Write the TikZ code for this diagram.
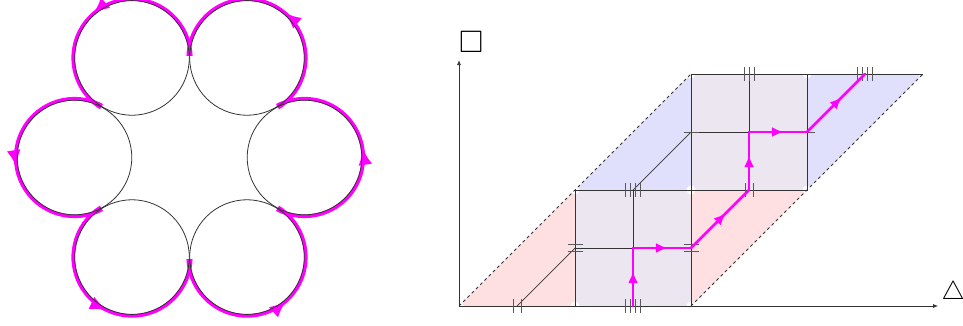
\documentclass[tikz,border=0pt]{standalone}
\usepackage{amssymb}
\usetikzlibrary{arrows.meta, calc, decorations.markings}

\definecolor{pinkfill}{RGB}{255,224,226}
\definecolor{bluefill}{RGB}{224,224,252}
\definecolor{cellfill}{RGB}{236,230,240}
\definecolor{loopcol}{RGB}{255,0,255}

\begin{document}
\begin{tikzpicture}[
  x=1pt, y=1pt,
  ring/.style={draw=black!80, line width=0.8pt},
  loop/.style={loopcol, line width=3.6pt, postaction={decorate}},
  gridline/.style={black!80, line width=0.7pt},
  seam/.style={black!80, line width=0.8pt, dash pattern=on 3pt off 3pt},
  tickmark/.style={black!65, line width=1pt},
  route/.style={loopcol, line width=2.6pt, line cap=round, postaction={decorate},
    decoration={markings, mark=at position 0.6 with {\arrow{Latex[length=12pt,width=10pt]}}}},
  axis/.style={-{Latex[length=5pt,width=4pt]}, black!80, line width=0.7pt},
  hole/.style={fill=white},
]
\useasboundingbox (0,0) rectangle (963,325);

% Left: ring of six circles
\begin{scope}[shift={(189.5,167.5)}]
  \foreach \a/\p in {0/0.54, 60/0.46, 120/0.55, 180/0.54, 240/0.52, 300/0.55} {
    \coordinate (c\a) at (\a:115);
    \draw[loop, decoration={markings, mark=at position \p with {\arrow{Latex[length=17pt,width=14pt]}}}]
      ($(c\a)+(\a-118:58.8)$) arc[start angle=\a-118, end angle=\a+118, radius=58.8];
  }
  \foreach \a in {0,60,...,300}
    \draw[ring] (c\a) circle[radius=57.3];
\end{scope}

% Right: the two cells and their strips
\begin{scope}[shift={(459pt,19pt)}, x=58pt, y=58pt]
  \foreach \i in {0,...,8}
    \foreach \j in {0,...,4}
      \coordinate (p\i\j) at (\i,\j);
  \coordinate (yend) at (0,4.24);
  \coordinate (xend) at (8.26,0);

  % fills
  \fill[pinkfill] (p00) -- (p40) -- (p62) -- (p22) -- cycle;
  \fill[bluefill] (p22) -- (p62) -- (p84) -- (p44) -- cycle;
  \fill[cellfill] (p20) rectangle (p42);
  \fill[cellfill] (p42) rectangle (p64);
  \foreach \v in {00,20,40,22,42,62,44,64,84}
    \fill[hole] (p\v) circle[radius=4.5pt];

  % strip borders
  \draw[seam] (p00) -- (p22) -- (p44);
  \draw[seam] (p40) -- (p62) -- (p84);

  % cells
  \draw[gridline] (p20) rectangle (p42);
  \draw[gridline] (p42) rectangle (p64);
  \draw[gridline] (p22) -- (p62);
  \draw[gridline] (p44) -- (p84);
  \draw[gridline] (p30) -- (p32);
  \draw[gridline] (p21) -- (p41);
  \draw[gridline] (p52) -- (p54);
  \draw[gridline] (p43) -- (p63);
  \draw[gridline] (p10) -- (p21);
  \draw[gridline] (p32) -- (p43);
  \draw[gridline] (p41) -- (p52);
  \draw[gridline] (p63) -- (p74);

  % axes
  \draw[axis] (p00) -- (yend);
  \draw[axis] (p00) -- (xend);

  % tick marks
  \foreach \v/\n in {10/2, 30/4, 32/4, 52/2, 54/3, 74/4} {
    \pgfmathsetmacro\s{ifthenelse(\n==2,8,5)}
    \foreach \k in {1,...,\n} {
      \pgfmathsetmacro\o{(\k-(\n+1)/2)*\s}
      \draw[tickmark] ([xshift=\o pt, yshift=-7pt]p\v) -- ++(0,14pt);
    }
  }
  \foreach \v/\n in {21/2, 41/2, 43/1, 63/1} {
    \foreach \k in {1,...,\n} {
      \pgfmathsetmacro\o{(\k-(\n+1)/2)*7}
      \draw[tickmark] ([xshift=-7.5pt, yshift=\o pt]p\v) -- ++(15pt,0);
    }
  }

  % path through the cells
  \foreach \a/\b in {30/31, 31/41, 41/52, 52/53, 53/63, 63/74}
    \draw[route] (p\a) -- (p\b);

  % axis labels
  \node[scale=3.1, inner sep=0pt] (ylabel) at (0.21,4.55) {$\square$};
  \node[scale=2.6, inner sep=0pt] (xlabel) at (8.52,0.22) {$\triangle$};
\end{scope}
\end{tikzpicture}
\end{document}
